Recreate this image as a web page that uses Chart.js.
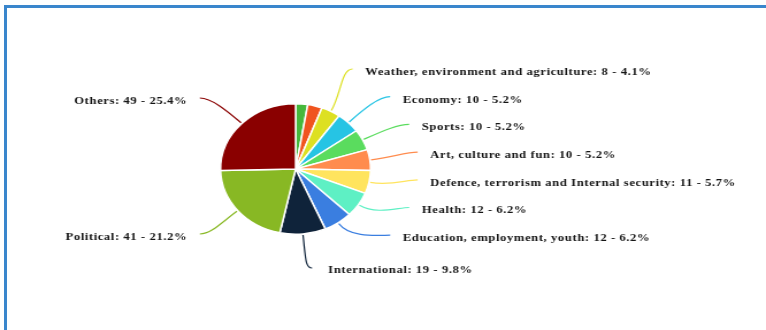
<!DOCTYPE html>
<html>
<head>
<meta charset="utf-8">
<title>News topics</title>
<script src="https://cdn.jsdelivr.net/npm/chart.js@4"></script>
<style>
  html, body { margin: 0; padding: 0; background: #fff; overflow: hidden; }
  body { width: 766px; height: 330px; position: relative; }
  .frame {
    position: absolute; left: 4px; top: 5px; width: 820px; height: 400px;
    border-left: 3px solid #3a86cc; border-top: 3px solid #3a86cc;
  }
  /* canvas is drawn narrower and stretched to full width */
  #chart { position: absolute; left: 0; top: 0; width: 766px !important; height: 330px !important; }
</style>
</head>
<body>
<div class="frame"></div>
<canvas id="chart" width="666" height="330"></canvas>
<script>
// slices, clockwise from 12 o'clock (first two are not labelled)
const categories = ['', '', 'Weather, environment and agriculture', 'Economy', 'Sports',
  'Art, culture and fun', 'Defence, terrorism and Internal security', 'Health',
  'Education, employment, youth', 'International', 'Political', 'Others'];
const counts = [5, 6, 8, 10, 10, 10, 11, 12, 12, 19, 41, 49];
const sliceColors = ['#46b83c', '#f0541e', '#dde022', '#26c4e4', '#5adc5e', '#ff8c4e',
  '#ffe45e', '#5ef0c4', '#3a7ee0', '#0f233a', '#88b824', '#8a0000'];

// label rows relative to pie centre
const rowLayout = { right: { top: -97, gap: 27.7 }, left: { top: -68, gap: 136 } };
const labelEllipse = { a: 118, b: 113 };

// labels with curved leader lines
const sliceLabels = {
  id: 'sliceLabels',
  afterDatasetsDraw(chart) {
    const ctx = chart.ctx;
    const arcs = chart.getDatasetMeta(0).data;
    const total = counts.reduce((a, b) => a + b, 0);
    const groups = { left: [], right: [], bottom: [] };

    arcs.forEach((arc, i) => {
      if (!categories[i]) return;
      const p = arc.getProps(['x', 'y', 'startAngle', 'endAngle', 'outerRadius'], true);
      const mid = (p.startAngle + p.endAngle) / 2;
      const dx = Math.cos(mid), dy = Math.sin(mid);
      const side = (Math.abs(dx) < 0.2 && dy > 0) ? 'bottom' : (dx > 0 ? 'right' : 'left');
      groups[side].push({ i, p, dx, dy });
    });

    ctx.save();
    ctx.font = 'bold 11px "Liberation Serif"';
    ctx.letterSpacing = '0.5px';
    ctx.textBaseline = 'middle';

    function text(i) {
      const pct = (counts[i] / total * 100).toFixed(1);
      return categories[i] + ': ' + counts[i] + ' - ' + pct + '%';
    }

    function draw(item, tx, ty, sign, endX, endY, l1, l2) {
      const { p, dx, dy, i } = item;
      const sx = p.x + dx * (p.outerRadius + 1);
      const sy = p.y + dy * (p.outerRadius + 1);
      ctx.beginPath();
      ctx.moveTo(sx, sy);
      ctx.bezierCurveTo(sx + dx * l1, sy + dy * l1, endX - sign * l2, endY, endX, endY);
      ctx.strokeStyle = sliceColors[i];
      ctx.lineWidth = 1.2;
      ctx.stroke();
      ctx.fillStyle = '#141414';
      ctx.textAlign = sign > 0 ? 'left' : 'right';
      ctx.fillText(text(i), tx, ty);
    }

    ['right', 'left'].forEach(side => {
      const sign = side === 'right' ? 1 : -1;
      const rows = rowLayout[side];
      groups[side].sort((a, b) => a.dy - b.dy).forEach((item, k) => {
        const off = rows.top + k * rows.gap;
        const ext = labelEllipse.a * Math.sqrt(Math.max(0, 1 - (off / labelEllipse.b) ** 2));
        const tx = item.p.x + sign * ext;
        const ty = item.p.y + off;
        draw(item, tx, ty, sign, tx - sign * 11, ty - 3, 18, 10);
      });
    });

    groups.bottom.forEach(item => {
      const sx = item.p.x + item.dx * item.p.outerRadius;
      const tx = sx + 22;
      const ty = item.p.y + 101;
      draw(item, tx, ty, 1, tx - 14, ty - 2, 24, 6);
    });
    ctx.restore();
  }
};

new Chart(document.getElementById('chart'), {
  type: 'pie',
  data: {
    labels: categories,
    datasets: [{
      data: counts,
      backgroundColor: sliceColors,
      borderColor: '#ffffff',
      borderWidth: 1.5
    }]
  },
  options: {
    responsive: false,
    animation: false,
    layout: { padding: { top: 103, bottom: 95, left: 191, right: 343 } },
    plugins: { legend: { display: false }, tooltip: { enabled: false } }
  },
  plugins: [sliceLabels]
});
</script>
</body>
</html>
